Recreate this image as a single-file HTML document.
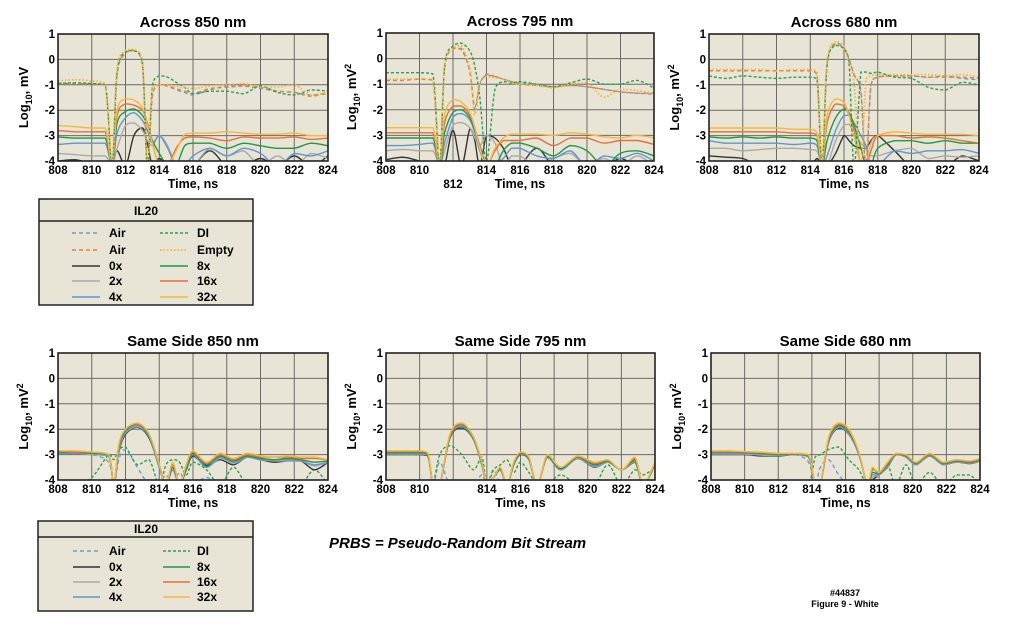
<!DOCTYPE html>
<html><head><meta charset="utf-8">
<style>
html,body{margin:0;padding:0;background:#fff;}
body{width:1025px;height:623px;overflow:hidden;font-family:"Liberation Sans",Arial,sans-serif;}
svg text{font-family:"Liberation Sans",Arial,sans-serif;font-weight:bold;}
</style></head>
<body>
<svg id="root" width="1025" height="623" viewBox="0 0 1025 623" xmlns="http://www.w3.org/2000/svg">
<defs></defs>
<g id="charts"></g>
<g id="legend1">
  <rect x="39" y="199" width="214" height="106" fill="#e9e5d6" stroke="#222" stroke-width="1.5"/>
  <line x1="39" y1="221" x2="253" y2="221" stroke="#222" stroke-width="1.5"/>
  <text x="146" y="215" font-size="12" text-anchor="middle">IL20</text>
  <g font-size="12">
    <line x1="72" y1="233" x2="100" y2="233" stroke="#6a9fd4" stroke-width="1.5" stroke-dasharray="4,3"/><text x="109" y="237">Air</text>
    <line x1="72" y1="250" x2="100" y2="250" stroke="#e8803a" stroke-width="1.5" stroke-dasharray="4,3"/><text x="109" y="254">Air</text>
    <line x1="72" y1="266" x2="100" y2="266" stroke="#333" stroke-width="1.5"/><text x="109" y="270">0x</text>
    <line x1="72" y1="281" x2="100" y2="281" stroke="#aaa" stroke-width="1.5"/><text x="109" y="285">2x</text>
    <line x1="72" y1="297" x2="100" y2="297" stroke="#5a98d2" stroke-width="1.5"/><text x="109" y="301">4x</text>
    <line x1="160" y1="233" x2="188" y2="233" stroke="#2aa050" stroke-width="1.5" stroke-dasharray="3,2"/><text x="197" y="237">DI</text>
    <line x1="160" y1="250" x2="188" y2="250" stroke="#f2b630" stroke-width="1.8" stroke-dasharray="1.5,2"/><text x="197" y="254">Empty</text>
    <line x1="160" y1="266" x2="188" y2="266" stroke="#1e9a44" stroke-width="1.5"/><text x="197" y="270">8x</text>
    <line x1="160" y1="281" x2="188" y2="281" stroke="#e8703a" stroke-width="1.5"/><text x="197" y="285">16x</text>
    <line x1="160" y1="297" x2="188" y2="297" stroke="#f4b93a" stroke-width="1.5"/><text x="197" y="301">32x</text>
  </g>
</g>
<g id="legend2">
  <rect x="38" y="521" width="215" height="90" fill="#e9e5d6" stroke="#222" stroke-width="1.5"/>
  <line x1="38" y1="537" x2="253" y2="537" stroke="#222" stroke-width="1.5"/>
  <text x="146" y="533" font-size="12" text-anchor="middle">IL20</text>
  <g font-size="12">
    <line x1="73" y1="551" x2="100" y2="551" stroke="#6a9fd4" stroke-width="1.5" stroke-dasharray="4,3"/><text x="109" y="555">Air</text>
    <line x1="73" y1="567" x2="100" y2="567" stroke="#333" stroke-width="1.5"/><text x="109" y="571">0x</text>
    <line x1="73" y1="582" x2="100" y2="582" stroke="#aaa" stroke-width="1.5"/><text x="109" y="586">2x</text>
    <line x1="73" y1="597" x2="100" y2="597" stroke="#5a98d2" stroke-width="1.5"/><text x="109" y="601">4x</text>
    <line x1="163" y1="551" x2="190" y2="551" stroke="#2aa050" stroke-width="1.5" stroke-dasharray="3,2"/><text x="197" y="555">DI</text>
    <line x1="163" y1="567" x2="190" y2="567" stroke="#1e9a44" stroke-width="1.5"/><text x="197" y="571">8x</text>
    <line x1="163" y1="582" x2="190" y2="582" stroke="#e8703a" stroke-width="1.5"/><text x="197" y="586">16x</text>
    <line x1="163" y1="597" x2="190" y2="597" stroke="#f4b93a" stroke-width="1.5"/><text x="197" y="601">32x</text>
  </g>
</g>
<text x="329" y="548" font-size="15" font-style="italic">PRBS = Pseudo-Random Bit Stream</text>
<text x="845" y="596" font-size="9" text-anchor="middle">#44837</text>
<text x="845" y="607" font-size="9" text-anchor="middle">Figure 9 - White</text>
</svg>
<script>
// ---- data (log10 values) ----
const xTicks = [808,810,812,814,816,818,820,822,824];
const yTicks = [1,0,-1,-2,-3,-4];

const tA850 = [808,809,810,810.8,811.2,811.5,812,812.5,813,813.3,813.6,814,814.5,815,815.5,816,817,818,819,820,821,822,823,824];
const a850AirB = [-0.95,-0.95,-0.97,-1.0,-4.2,-0.6,0.25,0.35,-0.2,-4.2,-1.4,-1.0,-1.05,-1.2,-1.3,-1.4,-1.2,-1.05,-1.05,-1.15,-1.25,-1.3,-1.4,-1.35];
const a850AirO = [-0.95,-0.95,-0.97,-1.0,-4.2,-0.6,0.28,0.35,-0.2,-4.2,-1.4,-1.0,-1.05,-1.15,-1.25,-1.35,-1.15,-1.1,-1.05,-1.1,-1.25,-1.3,-1.45,-1.3];
const a850DI = [-0.95,-0.92,-0.95,-1.0,-4.2,-0.5,0.3,0.35,-0.1,-4.2,-1.0,-0.65,-0.7,-0.9,-1.1,-1.35,-1.25,-1.25,-1.35,-1.05,-1.3,-1.4,-1.2,-1.25];
const a850Empty = [-0.85,-0.8,-0.85,-0.95,-4.2,-0.4,0.35,0.4,-0.1,-4.2,-1.1,-1.0,-1.0,-1.05,-1.1,-1.15,-1.05,-1.0,-0.95,-1.1,-1.1,-1.0,-1.4,-1.3];
const a850x32 = [-2.6,-2.65,-2.7,-2.7,-4.2,-2.0,-1.55,-1.6,-1.9,-2.6,-3.3,-4.2,-4.2,-3.6,-2.95,-2.9,-2.9,-2.85,-2.9,-2.95,-2.95,-2.9,-3.0,-3.0];
const a850x16 = [-2.8,-2.85,-2.85,-2.85,-4.2,-2.2,-1.75,-1.8,-2.0,-2.5,-3.3,-4.2,-4.2,-3.5,-3.1,-3.05,-3.1,-3.2,-3.05,-3.1,-3.1,-3.05,-3.15,-3.1];
const a850x8 = [-3.05,-3.1,-3.1,-3.1,-4.2,-2.5,-2.05,-1.95,-2.2,-2.6,-3.2,-3.7,-4.2,-4.2,-3.4,-3.3,-3.3,-3.5,-3.3,-3.4,-3.5,-3.5,-3.3,-3.4];
const a850x4 = [-3.35,-3.3,-3.3,-3.3,-4.2,-2.9,-2.3,-2.1,-2.4,-2.8,-3.3,-3.0,-3.5,-4.2,-4.2,-3.8,-3.5,-3.8,-3.5,-3.7,-4.2,-3.7,-3.8,-3.6];
const a850x2 = [-3.7,-3.75,-3.8,-3.8,-4.2,-3.5,-2.6,-2.5,-2.8,-3.2,-3.4,-3.0,-3.4,-4.2,-4.2,-4.2,-3.5,-3.8,-3.6,-4.2,-3.8,-4.2,-3.7,-3.9];
const a850x0 = [-4,-3.95,-4.1,-4.2,-4.2,-3.6,-4.2,-3.0,-2.7,-3.3,-4.2,-3.9,-4.2,-4.2,-4.2,-4.2,-3.6,-4.2,-4.2,-3.9,-4.2,-3.8,-4.2,-3.8];

const tA795 = [808,809,810,810.8,811.2,811.5,812,812.5,813,813.3,813.6,814,814.5,815,815.5,816,817,818,819,820,821,822,823,824];
const a795AirB = [-0.85,-0.85,-0.8,-0.85,-4.2,-0.4,0.4,0.35,-0.5,-2.0,-1.0,-0.65,-0.7,-0.8,-0.9,-0.95,-1.0,-1.1,-1.05,-1.1,-1.2,-1.3,-1.35,-1.4];
const a795AirO = [-0.85,-0.85,-0.8,-0.85,-4.2,-0.4,0.4,0.4,-0.5,-1.9,-1.0,-0.6,-0.7,-0.8,-0.9,-1.0,-1.05,-1.1,-1.05,-1.1,-1.2,-1.3,-1.35,-1.35];
const a795DI = [-0.55,-0.55,-0.55,-0.6,-4.2,-0.3,0.5,0.6,0.3,-0.3,-1.5,-4.0,-1.2,-0.9,-0.95,-0.9,-1.0,-1.1,-0.95,-0.8,-1.0,-1.0,-0.85,-1.15];
const a795Empty = [-0.8,-0.8,-0.8,-0.85,-4.2,-0.3,0.4,0.5,-0.4,-2.2,-1.0,-0.7,-0.75,-0.8,-0.95,-1.0,-1.05,-1.15,-1.0,-0.95,-1.5,-1.2,-1.25,-1.35];
const a795x32 = [-2.7,-2.7,-2.7,-2.7,-4.2,-2.2,-1.6,-1.7,-2.1,-2.7,-3.5,-4.2,-3.5,-3.1,-2.95,-2.95,-2.95,-3.0,-2.9,-2.95,-3.05,-3.1,-3.0,-3.1];
const a795x16 = [-2.9,-2.9,-2.9,-2.9,-4.2,-2.5,-1.85,-1.85,-2.2,-2.7,-3.4,-4.2,-3.6,-3.2,-3.2,-3.2,-3.1,-3.4,-3.1,-3.1,-3.3,-3.2,-3.2,-3.35];
const a795x8 = [-3.1,-3.1,-3.1,-3.1,-4.2,-2.9,-2.1,-2.0,-2.3,-2.8,-3.4,-4.2,-4.2,-3.6,-3.3,-3.3,-3.5,-3.8,-3.4,-3.6,-4.2,-3.7,-3.6,-3.8];
const a795x4 = [-3.4,-3.4,-3.35,-3.3,-4.2,-3.3,-2.3,-2.15,-2.4,-2.9,-3.6,-4.2,-4.2,-3.9,-3.5,-3.5,-3.8,-3.9,-3.6,-4.2,-3.8,-3.9,-3.7,-4.0];
const a795x2 = [-3.6,-3.55,-3.6,-3.6,-4.2,-3.6,-2.6,-2.5,-2.7,-3.1,-3.4,-3.0,-3.3,-4.2,-3.8,-3.8,-4.2,-3.9,-3.7,-4.2,-3.9,-4.2,-3.8,-4.2];
const a795x0 = [-3.95,-3.85,-4.0,-4.1,-4.2,-4.2,-2.8,-4.2,-2.75,-3.2,-4.2,-3.0,-3.1,-3.5,-4.2,-4.2,-3.5,-4.2,-4.2,-4.0,-4.2,-3.9,-4.2,-4.0];

const tA680 = [808,809,810,811,812,813,814,814.4,814.7,815,815.5,816,816.3,816.6,817,817.3,817.6,818,819,820,821,822,823,824];
const a680AirB = [-0.45,-0.45,-0.45,-0.45,-0.45,-0.45,-0.45,-0.6,-4.2,-0.2,0.6,0.45,0.0,-0.6,-1.3,-4.2,-1.0,-0.7,-0.65,-0.65,-0.7,-0.65,-0.75,-0.8];
const a680AirO = [-0.45,-0.45,-0.45,-0.45,-0.45,-0.45,-0.45,-0.6,-4.2,-0.2,0.65,0.45,0.0,-0.6,-1.3,-4.2,-1.0,-0.7,-0.65,-0.65,-0.7,-0.7,-0.7,-0.75];
const a680DI = [-0.65,-0.75,-0.65,-0.7,-0.75,-0.7,-0.7,-0.8,-4.2,-0.2,0.55,0.4,-0.2,-4.2,-0.5,-0.5,-0.55,-0.5,-0.7,-0.75,-1.1,-1.2,-0.9,-1.0];
const a680Empty = [-0.4,-0.4,-0.4,-0.4,-0.45,-0.4,-0.4,-0.5,-4.2,-0.1,0.7,0.5,-0.2,-1.0,-4.2,-0.8,-0.65,-0.6,-0.6,-0.6,-0.6,-0.65,-0.6,-0.7];
const a680x32 = [-2.7,-2.7,-2.7,-2.7,-2.7,-2.75,-2.75,-2.9,-4.2,-2.2,-1.55,-1.7,-2.2,-3.0,-4.2,-4.2,-3.3,-3.0,-2.85,-2.9,-2.95,-2.95,-2.95,-3.0];
const a680x16 = [-2.85,-2.85,-2.85,-2.85,-2.85,-2.9,-2.9,-3.0,-4.2,-2.5,-1.75,-1.85,-2.2,-2.8,-4.2,-4.2,-3.6,-3.0,-3.0,-3.1,-3.05,-3.1,-3.2,-3.3];
const a680x8 = [-3.05,-3.1,-3.05,-3.1,-3.05,-3.1,-3.1,-3.2,-4.2,-3.2,-2.3,-1.95,-2.1,-2.6,-3.5,-4.2,-4.2,-3.5,-3.2,-3.2,-3.3,-3.2,-3.3,-3.3];
const a680x4 = [-3.2,-3.3,-3.3,-3.3,-3.3,-3.35,-3.3,-3.4,-4.2,-3.8,-2.8,-2.2,-2.2,-2.5,-3.0,-3.4,-4.2,-4.2,-3.6,-3.7,-3.6,-3.6,-3.55,-3.7];
const a680x2 = [-3.5,-3.5,-3.6,-3.55,-3.5,-3.5,-3.55,-3.6,-4.2,-4.2,-3.2,-2.6,-2.55,-2.9,-3.3,-3.5,-3.8,-3.8,-3.6,-3.5,-3.9,-3.8,-3.85,-3.8];
const a680x0 = [-3.8,-3.85,-3.9,-4.2,-4.2,-4.0,-4.2,-3.9,-4.2,-4.2,-3.7,-3.0,-3.2,-3.4,-3.5,-3.5,-3.2,-3.0,-3.6,-4.2,-4.0,-4.2,-3.8,-4.0];

const tS850 = [808,809,810,811,811.3,811.6,812,812.7,813.4,814,814.4,814.8,815.2,815.6,816,816.8,817.6,818.4,819.2,820,820.8,821.6,822.4,823.2,824];
const s850x32 = [-2.85,-2.85,-2.9,-3.0,-4.2,-2.6,-2.0,-1.75,-2.2,-3.4,-4.2,-3.3,-4.2,-3.4,-2.85,-3.3,-2.95,-3.15,-2.95,-3.05,-3.1,-3.05,-3.1,-3.1,-3.2];
const s850x16 = [-2.85,-2.9,-2.9,-3.0,-4.2,-2.65,-2.0,-1.8,-2.2,-3.4,-4.2,-3.4,-4.2,-3.4,-2.9,-3.35,-3.0,-3.2,-3.0,-3.1,-3.1,-3.1,-3.15,-3.15,-3.2];
const s850x8 = [-2.9,-2.9,-2.95,-3.0,-4.2,-2.7,-2.05,-1.8,-2.25,-3.4,-4.2,-3.5,-4.2,-3.5,-2.95,-3.4,-3.05,-3.25,-3.05,-3.15,-3.2,-3.15,-3.2,-3.3,-3.25];
const s850x4 = [-2.95,-2.95,-2.95,-3.05,-4.2,-2.8,-2.1,-1.85,-2.3,-3.5,-4.2,-3.6,-4.2,-3.5,-3.0,-3.5,-3.1,-3.3,-3.1,-3.2,-3.2,-3.2,-3.25,-3.4,-3.3];
const s850x2 = [-2.95,-2.95,-3.0,-3.05,-4.2,-2.85,-2.15,-1.9,-2.3,-3.5,-4.2,-3.6,-4.2,-3.55,-3.0,-3.5,-3.15,-3.35,-3.1,-3.2,-3.25,-3.25,-3.25,-3.45,-3.3];
const s850x0 = [-2.95,-2.95,-3.0,-3.05,-4.2,-2.9,-2.2,-1.92,-2.35,-3.5,-4.2,-3.5,-4.2,-3.6,-3.05,-3.45,-3.2,-3.4,-3.1,-3.2,-3.3,-3.25,-3.25,-3.6,-3.3];
const s850Air = [-2.95,-2.95,-3.0,-3.3,-4.2,-3.2,-2.8,-3.5,-4.2,-4.2,-3.8,-4.2,-3.7,-4.2,-4.2,-3.9,-4.2,-4.2,-4.2,-4.2,-4.2,-4.2,-4.2,-4.2,-4.2];
const s850DI = [-4.2,-4.2,-3.9,-3.0,-3.2,-2.8,-2.7,-3.4,-3.2,-4.2,-3.4,-3.2,-3.3,-3.8,-3.3,-3.6,-4.2,-3.5,-4.2,-4.2,-4.2,-4.2,-4.2,-3.6,-4.2];

const tS795 = [808,809,810,810.5,810.8,811.2,811.8,812.5,813.2,813.7,814,814.4,814.8,815.2,815.6,816,816.5,817,817.6,818.4,819.4,820.4,821.2,822,822.8,823.3,824];
const s795x32 = [-2.85,-2.85,-2.85,-2.95,-4.2,-4.2,-2.2,-1.75,-2.3,-3.3,-4.2,-3.9,-3.5,-4.2,-3.3,-2.9,-3.1,-4.2,-3.0,-3.5,-3.05,-3.3,-3.2,-3.6,-3.1,-4.2,-3.3];
const s795x16 = [-2.88,-2.88,-2.88,-2.97,-4.2,-4.2,-2.25,-1.8,-2.3,-3.3,-4.2,-3.9,-3.5,-4.2,-3.3,-2.92,-3.12,-4.2,-3.02,-3.5,-3.08,-3.35,-3.22,-3.6,-3.15,-4.2,-3.3];
const s795x8 = [-2.92,-2.92,-2.92,-3.0,-4.2,-4.2,-2.28,-1.82,-2.35,-3.35,-4.2,-3.9,-3.55,-4.2,-3.35,-2.95,-3.15,-4.2,-3.05,-3.55,-3.1,-3.4,-3.25,-3.6,-3.2,-4.2,-3.35];
const s795x4 = [-2.95,-2.95,-2.95,-3.0,-4.2,-4.2,-2.3,-1.88,-2.35,-3.35,-4.2,-3.9,-3.55,-4.2,-3.35,-2.97,-3.18,-4.2,-3.08,-3.58,-3.12,-3.45,-3.28,-3.6,-3.25,-4.2,-3.4];
const s795x2 = [-2.98,-2.98,-2.98,-3.02,-4.2,-4.2,-2.32,-1.9,-2.38,-3.38,-4.2,-3.9,-3.58,-4.2,-3.38,-2.98,-3.18,-4.2,-3.08,-3.6,-3.14,-3.48,-3.3,-3.6,-3.28,-4.2,-3.4];
const s795x0 = [-3.0,-3.0,-3.0,-3.05,-4.2,-4.2,-2.35,-1.95,-2.4,-3.4,-4.2,-3.9,-3.6,-4.2,-3.4,-3.0,-3.2,-4.2,-3.1,-3.6,-3.15,-3.5,-3.3,-3.6,-3.3,-4.2,-3.4];
const s795Air = [-3.0,-3.0,-3.0,-3.1,-4.2,-3.3,-4.2,-4.2,-4.2,-3.8,-4.2,-3.6,-4.2,-4.2,-4.2,-4.2,-4.2,-4.2,-4.2,-4.2,-4.2,-4.2,-4.2,-4.2,-4.2,-4.2,-4.2];
const s795DI = [-4.2,-4.2,-4.2,-4.2,-4.2,-3.0,-2.65,-3.0,-3.6,-3.1,-4.2,-3.6,-3.4,-3.2,-3.7,-3.3,-3.7,-4.2,-4.2,-3.8,-4.2,-4.2,-3.4,-4.2,-3.6,-3.8,-3.5];

const tS680 = [808,809,810,811,812,813,813.8,814.2,814.5,815,815.6,816.2,816.8,817.3,817.6,818,818.5,819,819.6,820.2,821,821.8,822.6,823.4,824];
const s680x32 = [-2.85,-2.85,-2.88,-2.9,-2.95,-2.95,-3.0,-4.2,-4.2,-2.3,-1.75,-2.0,-2.9,-4.2,-3.5,-3.7,-3.3,-2.95,-3.0,-3.3,-2.95,-3.3,-3.2,-3.25,-3.15];
const s680x16 = [-2.88,-2.88,-2.9,-2.92,-2.97,-2.97,-3.02,-4.2,-4.2,-2.35,-1.8,-2.05,-2.92,-4.2,-3.55,-3.72,-3.35,-2.97,-3.02,-3.32,-2.98,-3.32,-3.22,-3.27,-3.18];
const s680x8 = [-2.9,-2.9,-2.92,-2.95,-3.0,-2.98,-3.05,-4.2,-4.2,-2.4,-1.85,-2.1,-2.95,-4.2,-3.7,-3.75,-3.4,-2.98,-3.05,-3.35,-3.0,-3.35,-3.25,-3.3,-3.2];
const s680x4 = [-2.95,-2.95,-2.95,-2.98,-3.02,-3.0,-3.08,-4.2,-4.2,-2.45,-1.9,-2.15,-2.98,-4.2,-3.8,-3.78,-3.45,-3.0,-3.08,-3.38,-3.02,-3.38,-3.28,-3.32,-3.22];
const s680x2 = [-2.98,-2.98,-2.98,-3.02,-3.03,-3.0,-3.1,-4.2,-4.2,-2.48,-1.92,-2.18,-3.0,-4.2,-3.9,-3.8,-3.48,-3.0,-3.1,-3.4,-3.04,-3.4,-3.3,-3.34,-3.24];
const s680x0 = [-3.0,-3.0,-3.0,-3.05,-3.05,-3.0,-3.1,-4.2,-4.2,-2.5,-1.95,-2.2,-3.0,-4.2,-4.0,-3.8,-3.5,-3.0,-3.1,-3.4,-3.05,-3.4,-3.3,-3.35,-3.25];
const s680Air = [-2.95,-2.95,-2.95,-3.0,-3.0,-3.0,-3.3,-4.2,-3.5,-3.2,-3.8,-4.2,-4.2,-4.2,-4.2,-4.2,-4.2,-4.2,-4.2,-4.2,-4.2,-4.2,-4.2,-4.2,-4.2];
const s680DI = [-4.2,-4.2,-4.2,-4.2,-4.2,-4.2,-4.2,-3.1,-3.0,-2.8,-2.7,-3.2,-3.6,-4.2,-3.6,-3.7,-3.4,-4.2,-3.4,-4.2,-3.7,-4.2,-3.8,-3.8,-4.2];

// ---- styles ----
const ST = {
  airB:{c:'#6a9fd4',d:'4,3',w:1.4}, airO:{c:'#e8803a',d:'4,3',w:1.4},
  di:{c:'#2aa050',d:'3,2',w:1.4}, empty:{c:'#f2b630',d:'1.5,2',w:1.8},
  x0:{c:'#333',d:null,w:1.4}, x2:{c:'#aaa',d:null,w:1.4}, x4:{c:'#5a98d2',d:null,w:1.4},
  x8:{c:'#1e9a44',d:null,w:1.4}, x16:{c:'#e8703a',d:null,w:1.4}, x32:{c:'#f4b93a',d:null,w:1.4}
};

const charts = [
  {name:'across-850',title:'Across 850 nm',sq:false,L:58,T:34,R:328,B:161,t:tA850,hide:[],low:[],
   s:[['x0',a850x0],['x2',a850x2],['x4',a850x4],['x8',a850x8],['x16',a850x16],['x32',a850x32],['airB',a850AirB],['airO',a850AirO],['di',a850DI],['empty',a850Empty]]},
  {name:'across-795',title:'Across 795 nm',sq:true,L:386,T:33,R:654,B:161,t:tA795,hide:[],low:[812],
   s:[['x0',a795x0],['x2',a795x2],['x4',a795x4],['x8',a795x8],['x16',a795x16],['x32',a795x32],['airB',a795AirB],['airO',a795AirO],['di',a795DI],['empty',a795Empty]]},
  {name:'across-680',title:'Across 680 nm',sq:true,L:709,T:34,R:979,B:161,t:tA680,hide:[],low:[],
   s:[['x0',a680x0],['x2',a680x2],['x4',a680x4],['x8',a680x8],['x16',a680x16],['x32',a680x32],['airB',a680AirB],['airO',a680AirO],['di',a680DI],['empty',a680Empty]]},
  {name:'same-side-850',title:'Same Side 850 nm',sq:true,L:58,T:353,R:328,B:480,t:tS850,hide:[],low:[],
   s:[['airB',s850Air],['di',s850DI],['x0',s850x0],['x2',s850x2],['x4',s850x4],['x8',s850x8],['x16',s850x16],['x32',s850x32]]},
  {name:'same-side-795',title:'Same Side 795 nm',sq:true,L:386,T:353,R:655,B:480,t:tS795,hide:[812],low:[],
   s:[['airB',s795Air],['di',s795DI],['x0',s795x0],['x2',s795x2],['x4',s795x4],['x8',s795x8],['x16',s795x16],['x32',s795x32]]},
  {name:'same-side-680',title:'Same Side 680 nm',sq:true,L:711,T:353,R:980,B:480,t:tS680,hide:[],low:[],
   s:[['airB',s680Air],['di',s680DI],['x0',s680x0],['x2',s680x2],['x4',s680x4],['x8',s680x8],['x16',s680x16],['x32',s680x32]]}
];

const NS='http://www.w3.org/2000/svg';
function mk(tag, attrs, parent){const e=document.createElementNS(NS,tag);for(const k in attrs)e.setAttribute(k,attrs[k]);if(parent)parent.appendChild(e);return e;}
function clampv(v,a,b){const lo=Math.min(a,b),hi=Math.max(a,b);return Math.max(lo,Math.min(hi,v));}
function smoothPath(pts){
  let d='M'+pts[0][0].toFixed(1)+','+pts[0][1].toFixed(1);
  for(let i=0;i<pts.length-1;i++){
    const p0=pts[Math.max(0,i-1)],p1=pts[i],p2=pts[i+1],p3=pts[Math.min(pts.length-1,i+2)];
    const c1x=p1[0]+(p2[0]-p0[0])/6,c1y=clampv(p1[1]+(p2[1]-p0[1])/6,p1[1],p2[1]);
    const c2x=p2[0]-(p3[0]-p1[0])/6,c2y=clampv(p2[1]-(p3[1]-p1[1])/6,p1[1],p2[1]);
    d+=' C'+c1x.toFixed(1)+','+c1y.toFixed(1)+' '+c2x.toFixed(1)+','+c2y.toFixed(1)+' '+p2[0].toFixed(1)+','+p2[1].toFixed(1);
  }
  return d;
}
const root=document.getElementById('charts');
const defs=document.querySelector('defs');
charts.forEach((c,ci)=>{
  const g=mk('g',{},root);
  
  
  const xs=v=>c.L+(v-808)/(824-808)*(c.R-c.L);
  const ys=v=>c.T+(1-v)/(1-(-4))*(c.B-c.T);
  const cp=mk('clipPath',{id:'clip'+ci},defs);
  mk('rect',{x:c.L,y:c.T,width:c.R-c.L,height:c.B-c.T},cp);
  const bg=mk('rect',{x:c.L,y:c.T,width:c.R-c.L,height:c.B-c.T,fill:'#e9e5d6'},g);
  
  
  xTicks.forEach(v=>{mk('line',{x1:xs(v),y1:c.T,x2:xs(v),y2:c.B,stroke:'#6a6a6a','stroke-width':1},g);});
  yTicks.forEach(v=>{mk('line',{x1:c.L,y1:ys(v),x2:c.R,y2:ys(v),stroke:'#6a6a6a','stroke-width':1},g);});
  const lines=mk('g',{'clip-path':'url(#clip'+ci+')'},g);
  c.s.forEach(([k,arr])=>{
    const st=ST[k];
    const pts=c.t.map((t,i)=>[xs(t),ys(arr[i])]);
    const p=mk('path',{d:smoothPath(pts),fill:'none',stroke:st.c,'stroke-width':st.w,'stroke-linejoin':'round'},lines);
    if(st.d)p.setAttribute('stroke-dasharray',st.d);
    
    
  });
  mk('rect',{x:c.L,y:c.T,width:c.R-c.L,height:c.B-c.T,fill:'none',stroke:'#222','stroke-width':1.6},g);
  xTicks.forEach(v=>{
    if(c.hide.includes(v))return;
    const low=c.low.includes(v);
    const tx=mk('text',{x:xs(v),y:c.B+(low?27:13),'font-size':11.5,'text-anchor':'middle'},g);
    tx.textContent=v;
    
    
  });
  yTicks.forEach(v=>{
    const tx=mk('text',{x:c.L-3,y:ys(v)+4,'font-size':11.5,'text-anchor':'end'},g);
    tx.textContent=v;
    
    
  });
  const ti=mk('text',{x:(c.L+c.R)/2,y:c.T-7,'font-size':15,'text-anchor':'middle'},g);
  ti.textContent=c.title;
  
  
  const xt=mk('text',{x:(c.L+c.R)/2,y:c.B+27,'font-size':12.5,'text-anchor':'middle'},g);
  xt.textContent='Time, ns';
  
  
  const cx=c.L-30, cy=(c.T+c.B)/2;
  const yt=mk('text',{x:cx,y:cy,'font-size':13,'text-anchor':'middle',transform:'rotate(-90 '+cx+' '+cy+')'},g);
  
  
  yt.innerHTML='Log<tspan font-size="9" dy="4">10</tspan><tspan dy="-4">, mV</tspan>'+(c.sq?'<tspan font-size="9" dy="-5">2</tspan>':'');
});
</script>
</body></html>
